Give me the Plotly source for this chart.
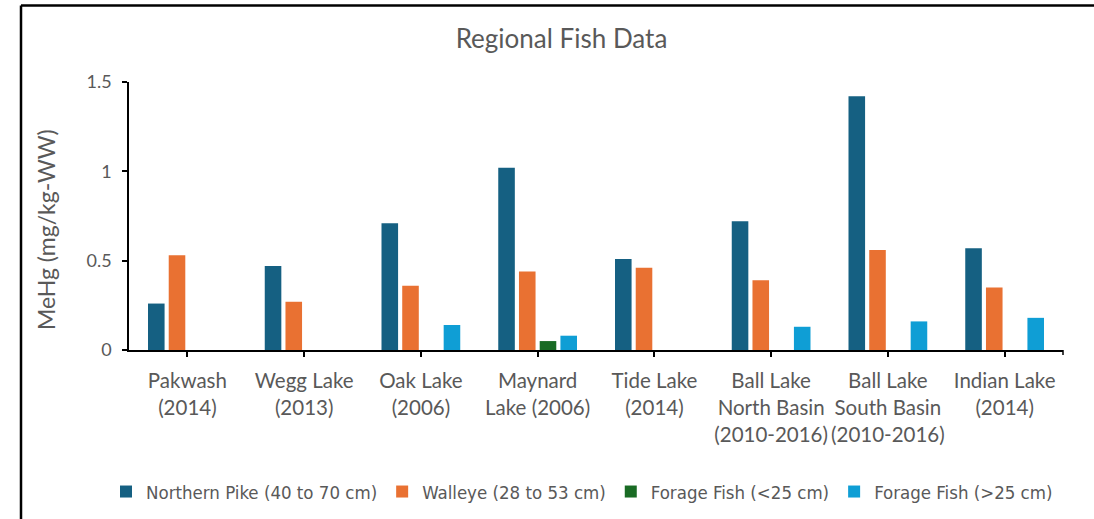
import plotly.graph_objects as go

# Lakes (category labels) and MeHg concentrations (mg/kg wet weight)
lakes = [
    "Pakwash<br>(2014)",
    "Wegg Lake<br>(2013)",
    "Oak Lake<br>(2006)",
    "Maynard<br>Lake (2006)",
    "Tide Lake<br>(2014)",
    "Ball Lake<br>North Basin<br>(2010-2016)",
    "Ball Lake<br>South Basin<br>(2010-2016)",
    "Indian Lake<br>(2014)",
]
northern_pike = [0.26, 0.47, 0.71, 1.02, 0.51, 0.72, 1.42, 0.57]
walleye = [0.53, 0.27, 0.36, 0.44, 0.46, 0.39, 0.56, 0.35]
forage_small = [0, 0, 0, 0.05, 0, 0, 0, 0]
forage_large = [0, 0, 0.14, 0.08, 0, 0.13, 0.16, 0.18]

series = [
    ("Northern Pike (40 to 70 cm)", northern_pike, "#156082"),
    ("Walleye (28 to 53 cm)", walleye, "#E97132"),
    ("Forage Fish (<25 cm)", forage_small, "#196B24"),
    ("Forage Fish (>25 cm)", forage_large, "#0F9ED5"),
]

W, H = 1094, 519
ML, MR, MT, MB = 129, 31, 82, 169
grey = "#595959"
font_main = "Lato"
font_narrow = "DejaVu Sans Condensed, Liberation Sans Narrow, Roboto Condensed, Roboto"

fig = go.Figure()
for name, vals, color in series:
    fig.add_trace(go.Bar(x=lakes, y=vals, name=name, marker_color=color,
                         marker_line_width=0))

pw = W - ML - MR
ph = H - MT - MB


def px_x(v):
    return (v - ML) / pw


def px_y(v):
    return (H - MB - v) / ph


# chart frame (top and left edges of the chart border)
frame = dict(type="line", xref="paper", yref="paper",
             line=dict(color="black", width=2.5))
fig.add_shape(**frame, x0=px_x(21), x1=px_x(1110), y0=px_y(5.5), y1=px_y(5.5))
fig.add_shape(**frame, x0=px_x(21), x1=px_x(21), y0=px_y(5.5), y1=px_y(530))

# closing tick at the right end of the category axis
fig.add_shape(type="line", xref="paper", yref="paper", x0=1, x1=1,
              y0=0, y1=px_y(H - MB + 5), line=dict(color="black", width=1.5))

# value-axis title
fig.add_annotation(text="MeHg (mg/kg-WW)", textangle=-90,
                   xref="paper", yref="paper", x=px_x(46), y=px_y(230),
                   xanchor="center", yanchor="middle", showarrow=False,
                   font=dict(size=23, color=grey, family=font_main))

fig.update_layout(
    width=W, height=H,
    margin=dict(l=ML, r=MR, t=MT, b=MB, autoexpand=False),
    paper_bgcolor="white", plot_bgcolor="white",
    barmode="group", bargap=0.29, bargroupgap=0.2,
    font=dict(family=font_main, color=grey),
    title=dict(text="Regional Fish Data", x=561.5 / W, xanchor="center",
               y=1 - 39 / H, yanchor="middle",
               font=dict(size=26, color=grey, family=font_main)),
    xaxis=dict(showline=True, linecolor="black", linewidth=1.5,
               ticks="outside", ticklen=5, tickcolor="black", tickwidth=1.5,
               tickfont=dict(size=20.5, color=grey, family=font_main),
               ticklabelstandoff=7, automargin=False,
               showgrid=False, tickangle=0),
    yaxis=dict(range=[0, 1.5], tickvals=[0, 0.5, 1, 1.5],
               ticktext=["0", "0.5", "1", "1.5"],
               showline=True, linecolor="black", linewidth=1.5,
               ticks="outside", ticklen=5, tickcolor="black", tickwidth=1.5,
               tickfont=dict(size=18, color=grey, family=font_main),
               ticklabelstandoff=7, automargin=False,
               showgrid=False, zeroline=False),
    legend=dict(orientation="h", x=px_x(106), xanchor="left",
                y=px_y(492), yanchor="middle",
                font=dict(size=18.5, color=grey, family=font_narrow),
                itemwidth=30, traceorder="normal"),
)

fig.write_html("out.html")
